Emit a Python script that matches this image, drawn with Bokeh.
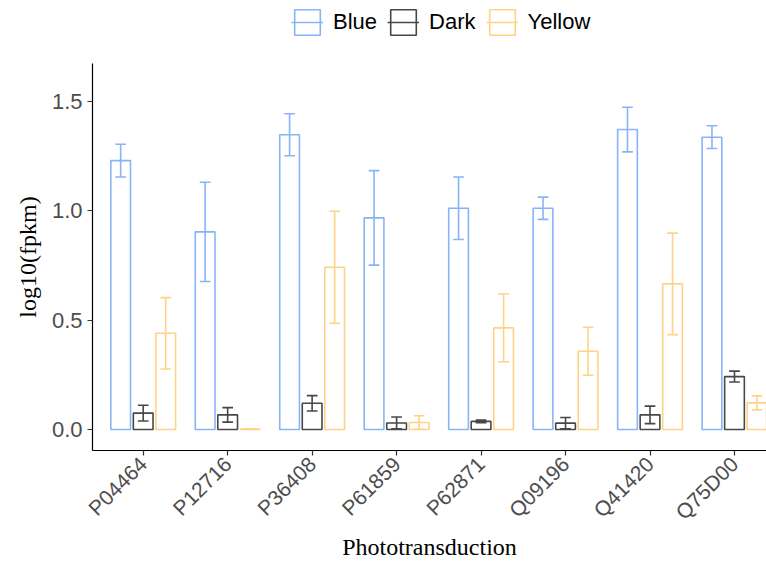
from bokeh.plotting import figure
from bokeh.layouts import column
from bokeh.models import (ColumnDataSource, Range1d, FixedTicker, NumeralTickFormatter,
                          Legend, LegendItem)
from bokeh.transform import dodge
from bokeh.embed import file_html
from bokeh.resources import INLINE

# ---- data ----
genes = ["P04464", "P12716", "P36408", "P61859", "P62871", "Q09196", "Q41420", "Q75D00"]
series = ["Blue", "Dark", "Yellow"]

blue_mean = [1.230, 0.904, 1.348, 0.968, 1.012, 1.012, 1.372, 1.337]
blue_err = [0.075, 0.227, 0.096, 0.216, 0.143, 0.051, 0.102, 0.052]

dark_mean = [0.075, 0.067, 0.120, 0.030, 0.037, 0.029, 0.067, 0.242]
dark_err = [0.036, 0.033, 0.035, 0.027, 0.006, 0.026, 0.040, 0.025]

yellow_mean = [0.440, 0.002, 0.742, 0.032, 0.465, 0.358, 0.666, 0.122]
yellow_err = [0.163, 0.001, 0.256, 0.031, 0.155, 0.110, 0.232, 0.032]

colors = ["#89B3F7", "#474747", "#FFD386"]

y_ticks = [0.0, 0.5, 1.0, 1.5]

offsets = [-0.2667, 0.0, 0.2667]
bar_w = 0.2333
cap_half = 0.0633
means = [blue_mean, dark_mean, yellow_mean]
errs = [blue_err, dark_err, yellow_err]

sources = []
for mean, err in zip(means, errs):
    src = ColumnDataSource(dict(
        x=list(range(1, len(genes) + 1)),
        mean=mean,
        lo=[m - e for m, e in zip(mean, err)],
        hi=[m + e for m, e in zip(mean, err)],
    ))
    sources.append(src)

# ---- main figure ----
p = figure(width=766, height=500, output_backend="svg", toolbar_location=None,
           x_range=Range1d(0.4, 8.379), y_range=Range1d(-0.096, 1.674),
           min_border_left=92, min_border_right=0, min_border_top=0, min_border_bottom=113)
p.outline_line_color = None
p.xgrid.grid_line_color = None
p.ygrid.grid_line_color = None
p.background_fill_color = "white"
p.border_fill_color = "white"

for src, off, col in zip(sources, offsets, colors):
    p.vbar(x=dodge("x", off), top="mean", bottom=0, width=bar_w, source=src,
           fill_color=None, line_color=col, line_width=1.6)

for src, off, col in zip(sources, offsets, colors):
    p.segment(x0=dodge("x", off), y0="lo", x1=dodge("x", off), y1="hi", source=src,
              line_color=col, line_width=1.6)
    p.segment(x0=dodge("x", off - cap_half), y0="hi", x1=dodge("x", off + cap_half), y1="hi",
              source=src, line_color=col, line_width=1.6)
    p.segment(x0=dodge("x", off - cap_half), y0="lo", x1=dodge("x", off + cap_half), y1="lo",
              source=src, line_color=col, line_width=1.6)

# ---- axes ----
for ax in (p.xaxis[0], p.yaxis[0]):
    ax.axis_line_color = "black"
    ax.axis_line_width = 1.2
    ax.major_tick_line_color = "#333333"
    ax.major_tick_line_width = 1.2
    ax.major_tick_out = 5
    ax.major_tick_in = 0
    ax.minor_tick_line_color = None
    ax.major_label_text_font = "Liberation Sans"
    ax.major_label_text_color = "#4D4D4D"
    ax.major_label_standoff = 5
    ax.axis_label_text_font = "Liberation Serif"
    ax.axis_label_text_font_size = "24px"
    ax.axis_label_text_font_style = "normal"
    ax.axis_label_text_color = "black"

p.xaxis.ticker = FixedTicker(ticks=list(range(1, len(genes) + 1)))
p.xaxis.major_label_overrides = {i + 1: g for i, g in enumerate(genes)}
p.xaxis.major_label_orientation = 0.785398
p.xaxis.major_label_text_font_size = "21px"
p.xaxis.axis_label = "Phototransduction"
p.xaxis.axis_label_standoff = -1

p.yaxis.ticker = FixedTicker(ticks=y_ticks)
p.yaxis.formatter = NumeralTickFormatter(format="0.0")
p.yaxis.major_label_text_font_size = "22px"
p.yaxis.axis_label = "log10(fpkm)"
p.yaxis.axis_label_standoff = 8

# ---- legend strip (separate figure above the plot; legend-key glyphs hold no drawable point) ----
lg = figure(width=766, height=63, output_backend="svg", toolbar_location=None,
            x_range=Range1d(0, 1), y_range=Range1d(0, 1),
            x_axis_type=None, y_axis_type=None,
            min_border_left=0, min_border_right=0, min_border_top=0, min_border_bottom=0)
lg.outline_line_color = None
lg.xgrid.grid_line_color = None
lg.ygrid.grid_line_color = None
lg.background_fill_color = "white"
lg.border_fill_color = "white"

nan = float("nan")
items = []
for s, col in zip(series, colors):
    key_src = ColumnDataSource(dict(x=[nan], top=[nan], y0=[nan], y1=[nan]))
    rb = lg.vbar(x="x", top="top", bottom=0, width=0.1, source=key_src,
                 fill_color=None, line_color=col, line_width=1.6)
    rs = lg.segment(x0="x", y0="y0", x1="x", y1="y1", source=key_src,
                    line_color=col, line_width=1.6)
    items.append(LegendItem(label=s, renderers=[rb, rs]))

legend = Legend(
    items=items, location=(199, 25), orientation="horizontal",
    glyph_width=32, glyph_height=32, label_standoff=10, spacing=10,
    padding=0, margin=0, border_line_color=None, background_fill_alpha=0,
    label_text_font="Liberation Sans", label_text_font_size="22px", label_text_color="black",
)
lg.add_layout(legend, "center")

layout = column(lg, p, spacing=0)
open("out.html", "w").write(file_html(layout, INLINE))
